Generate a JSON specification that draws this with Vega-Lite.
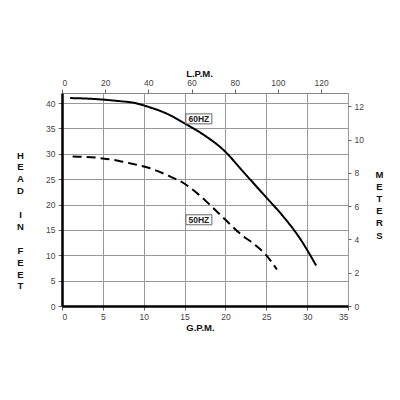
{
  "$schema": "https://vega.github.io/schema/vega-lite/v6.json",
  "width": 286,
  "height": 213,
  "autosize": {"type": "none"},
  "padding": {"left": 62, "top": 93, "right": 52, "bottom": 94},
  "config": {
    "font": "Liberation Sans",
    "view": {"stroke": "#888", "strokeWidth": 1},
    "axis": {"labelFont": "Liberation Sans", "titleFont": "Liberation Sans", "labelFontSize": 8.5, "labelColor": "#444", "tickColor": "#666", "titleFontSize": 9.5, "titleFontWeight": "bold", "titleColor": "#111"}
  },
  "datasets": {
    "curves": [
      {"series": "60HZ", "gpm": 1.0, "ft": 41.0},
      {"series": "60HZ", "gpm": 3.0, "ft": 40.9},
      {"series": "60HZ", "gpm": 5.0, "ft": 40.7},
      {"series": "60HZ", "gpm": 7.0, "ft": 40.4},
      {"series": "60HZ", "gpm": 8.7, "ft": 40.1},
      {"series": "60HZ", "gpm": 10.7, "ft": 39.2},
      {"series": "60HZ", "gpm": 13.0, "ft": 37.8},
      {"series": "60HZ", "gpm": 15.0, "ft": 36.0},
      {"series": "60HZ", "gpm": 17.2, "ft": 33.9},
      {"series": "60HZ", "gpm": 20.0, "ft": 30.4},
      {"series": "60HZ", "gpm": 22.0, "ft": 26.8},
      {"series": "60HZ", "gpm": 25.0, "ft": 21.4},
      {"series": "60HZ", "gpm": 27.0, "ft": 17.8},
      {"series": "60HZ", "gpm": 29.0, "ft": 13.6},
      {"series": "60HZ", "gpm": 31.1, "ft": 8.0},
      {"series": "50HZ", "gpm": 1.3, "ft": 29.5},
      {"series": "50HZ", "gpm": 3.0, "ft": 29.4},
      {"series": "50HZ", "gpm": 5.0, "ft": 29.1},
      {"series": "50HZ", "gpm": 7.0, "ft": 28.6},
      {"series": "50HZ", "gpm": 8.7, "ft": 28.0},
      {"series": "50HZ", "gpm": 10.7, "ft": 27.2},
      {"series": "50HZ", "gpm": 13.0, "ft": 25.7},
      {"series": "50HZ", "gpm": 15.0, "ft": 24.1},
      {"series": "50HZ", "gpm": 16.5, "ft": 22.3},
      {"series": "50HZ", "gpm": 18.0, "ft": 20.1},
      {"series": "50HZ", "gpm": 20.0, "ft": 17.0},
      {"series": "50HZ", "gpm": 22.0, "ft": 14.0},
      {"series": "50HZ", "gpm": 23.5, "ft": 12.2},
      {"series": "50HZ", "gpm": 25.0, "ft": 10.0},
      {"series": "50HZ", "gpm": 26.3, "ft": 7.2}
    ],
    "labels": [
      {"label": "60HZ", "gpm": 16.75, "ft": 36.9},
      {"label": "50HZ", "gpm": 16.75, "ft": 17.0}
    ],
    "metric": [
      {"lpm": 0, "m": 0}
    ]
  },
  "layer": [
    {
      "encoding": {
        "x": {"field": "gpm", "type": "quantitative", "scale": {"domain": [0, 35], "nice": false},
          "axis": {"orient": "bottom", "values": [0, 5, 10, 15, 20, 25, 30, 35], "grid": true, "gridColor": "#999", "gridWidth": 1, "domainColor": "#000", "domainWidth": 2.5, "tickSize": 4, "labelPadding": 2, "title": "G.P.M.", "titleX": 138, "titleY": 21, "titleBaseline": "middle", "titleAlign": "center"}},
        "y": {"field": "ft", "type": "quantitative", "scale": {"domain": [0, 42], "nice": false},
          "axis": {"orient": "left", "values": [0, 5, 10, 15, 20, 25, 30, 35, 40], "grid": true, "gridColor": "#999", "gridWidth": 1, "domainColor": "#000", "domainWidth": 2.5, "tickSize": 4, "labelPadding": 3, "labelOverlap": false,
            "title": ["H", "E", "A", "D", "\u200b", "I", "N", "\u200b", "F", "E", "E", "T"], "titleAngle": 0, "titleAlign": "center", "titleBaseline": "top", "titleLineHeight": 11.9, "titleX": -42, "titleY": 57}}
      },
      "layer": [
        {
          "data": {"name": "curves"},
          "mark": {"type": "line", "interpolate": "monotone", "strokeWidth": 2, "color": "#000"},
          "encoding": {
            "detail": {"field": "series"},
            "strokeDash": {"field": "series", "type": "nominal", "scale": {"domain": ["60HZ", "50HZ"], "range": [[1, 0], [9, 5]]}, "legend": null}
          }
        },
        {
          "data": {"name": "labels"},
          "mark": {"type": "point", "shape": "M-1.3,-0.5H1.3V0.5H-1.3Z", "size": 400, "filled": true, "fill": "#fff", "stroke": "#666", "strokeWidth": 1, "opacity": 1}
        },
        {
          "data": {"name": "labels"},
          "mark": {"type": "text", "font": "Liberation Sans", "fontSize": 8.5, "fontWeight": "bold", "color": "#222", "align": "center", "baseline": "middle"},
          "encoding": {
            "text": {"field": "label"}
          }
        }
      ]
    },
    {
      "data": {"name": "metric"},
      "mark": {"type": "point", "opacity": 0},
      "encoding": {
        "x": {"field": "lpm", "type": "quantitative", "scale": {"domain": [0, 132.49], "nice": false},
          "axis": {"orient": "top", "values": [0, 20, 40, 60, 80, 100, 120], "grid": false, "domain": false, "tickSize": 4, "labelPadding": 2, "title": "L.P.M.", "titleX": 137, "titleY": -20, "titleBaseline": "middle", "titleAlign": "center"}},
        "y": {"field": "m", "type": "quantitative", "scale": {"domain": [0, 12.8], "nice": false},
          "axis": {"orient": "right", "values": [0, 2, 4, 6, 8, 10, 12], "grid": false, "domain": false, "tickSize": 3, "labelPadding": 3,
            "title": ["M", "E", "T", "E", "R", "S"], "titleAngle": 0, "titleAlign": "center", "titleBaseline": "top", "titleLineHeight": 12.2, "titleX": 31, "titleY": 76}}
      }
    }
  ],
  "resolve": {"scale": {"x": "independent", "y": "independent"}}
}
